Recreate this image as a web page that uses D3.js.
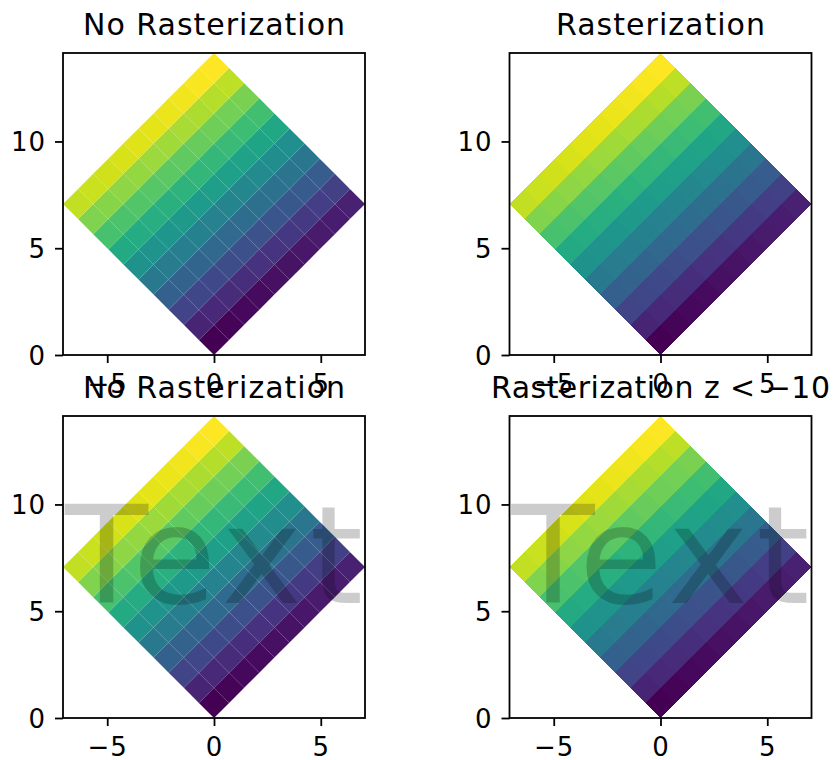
<!DOCTYPE html>
<html><head><meta charset="utf-8">
<script src="https://cdn.jsdelivr.net/npm/d3@7"></script>
<style>
body{margin:0;background:#fff}
svg{display:block}
text{font-family:"DejaVu Sans",sans-serif}
</style></head><body>
<svg id="chart" width="833" height="760"></svg>
<script>
// grid node indices (meshgrid of arange(11))
const gridX = [0,1,2,3,4,5,6,7,8,9,10];
const gridY = [0,1,2,3,4,5,6,7,8,9,10];
// cell values (rows = y index, cols = x index)
const values = [
  [0,1,2,3,4,5,6,7,8,9],
  [10,11,12,13,14,15,16,17,18,19],
  [20,21,22,23,24,25,26,27,28,29],
  [30,31,32,33,34,35,36,37,38,39],
  [40,41,42,43,44,45,46,47,48,49],
  [50,51,52,53,54,55,56,57,58,59],
  [60,61,62,63,64,65,66,67,68,69],
  [70,71,72,73,74,75,76,77,78,79],
  [80,81,82,83,84,85,86,87,88,89],
  [90,91,92,93,94,95,96,97,98,99]
];
const rotationDeg = 45;
const xTicks = [-5, 0, 5];
const yTicks = [0, 5, 10];
const titles = ["No Rasterization", "Rasterization", "No Rasterization", "Rasterization z < \u221210"];
const titleWidths = [262, 209, 262, 339];
const overlay = [null, null, "Text", "Text"];
const rasterized = [false, true, false, true];

const svg = d3.select("#chart");
const size = 302;
const panels = [{x:63,y:53},{x:509.5,y:53},{x:63,y:416},{x:509.5,y:416}];

const th = rotationDeg * Math.PI / 180;
const rotX = (gx, gy) => gx * Math.cos(th) - gy * Math.sin(th);
const rotY = (gx, gy) => gx * Math.sin(th) + gy * Math.cos(th);

const nodes = [];
gridY.forEach(gy => gridX.forEach(gx => nodes.push([rotX(gx, gy), rotY(gx, gy)])));
const xExt = d3.extent(nodes, d => d[0]);
const yExt = d3.extent(nodes, d => d[1]);

const allVals = values.flat();
const color = d3.scaleSequential(d3.interpolateViridis).domain(d3.extent(allVals));

const cells = [];
for (let i = 0; i < values.length; i++) {
  for (let j = 0; j < values[i].length; j++) {
    cells.push({v: values[i][j], pts: [
      [gridX[j], gridY[i]], [gridX[j+1], gridY[i]], [gridX[j+1], gridY[i+1]], [gridX[j], gridY[i+1]]
    ]});
  }
}

panels.forEach((p, k) => {
  const g = svg.append("g").attr("transform", `translate(${p.x},${p.y})`);
  const x = d3.scaleLinear().domain(xExt).range([0, size]);
  const y = d3.scaleLinear().domain(yExt).range([size, 0]);
  const line = d3.line().x(d => x(rotX(d[0], d[1]))).y(d => y(rotY(d[0], d[1])));

  g.append("g")
    .attr("shape-rendering", rasterized[k] ? "crispEdges" : "auto")
    .selectAll("path").data(cells).join("path")
    .attr("d", d => line(d.pts) + "Z")
    .attr("fill", d => color(d.v));

  if (overlay[k]) {
    g.append("text")
      .attr("x", size / 2).attr("y", size / 2 + 36)
      .attr("text-anchor", "middle")
      .attr("font-size", 136)
      .attr("textLength", 298).attr("lengthAdjust", "spacing")
      .attr("fill", "#000").attr("fill-opacity", 0.2)
      .text(overlay[k]);
  }

  g.append("rect").attr("width", size).attr("height", size)
    .attr("fill", "none").attr("stroke", "#000").attr("stroke-width", 1.8);

  const xa = g.append("g").attr("transform", `translate(0,${size})`)
    .call(d3.axisBottom(x).tickValues(xTicks).tickSize(8).tickPadding(9)
      .tickFormat(d => d < 0 ? "\u2212" + Math.abs(d) : String(d)));
  const ya = g.append("g")
    .call(d3.axisLeft(y).tickValues(yTicks).tickSize(8).tickPadding(9).tickFormat(d3.format("d")));
  [xa, ya].forEach(a => {
    a.select(".domain").remove();
    a.selectAll("line").attr("stroke", "#000").attr("stroke-width", 1.8);
    a.selectAll("text").attr("fill", "#000").attr("font-size", 26)
      .attr("letter-spacing", 1)
      .attr("font-family", "DejaVu Sans, sans-serif");
  });
  xa.selectAll("text").attr("dy", null).attr("y", 38);
  ya.selectAll("text").attr("dy", "0.36em");

  g.append("text")
    .attr("x", size / 2).attr("y", -18)
    .attr("text-anchor", "middle")
    .attr("font-size", 30)
    .attr("fill", "#000")
    .attr("textLength", titleWidths[k]).attr("lengthAdjust", "spacing")
    .text(titles[k]);
});
</script>
</body></html>
